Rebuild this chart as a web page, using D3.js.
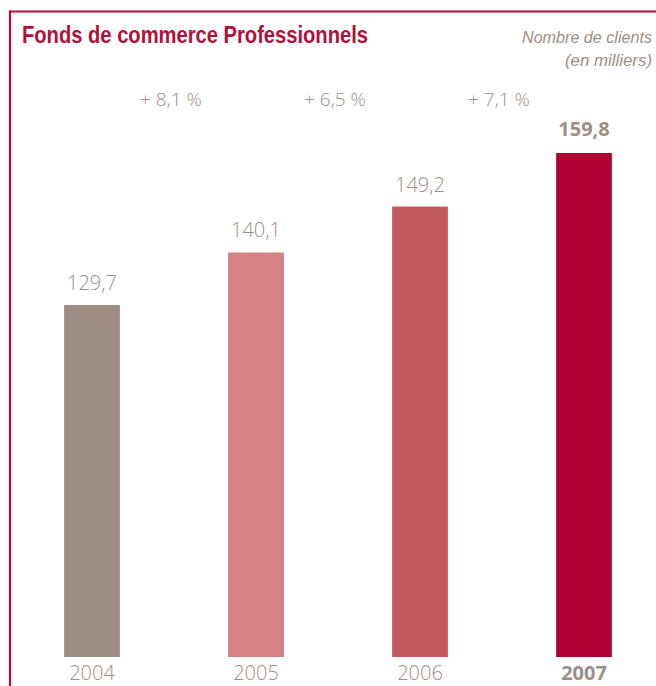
<!DOCTYPE html>
<html>
<head>
<meta charset="utf-8">
<script src="https://cdn.jsdelivr.net/npm/d3@7"></script>
<style>
  html, body { margin: 0; padding: 0; background: #fff; }
  svg { display: block; }
</style>
</head>
<body>
<svg id="chart" width="656" height="686"></svg>
<script>
// Number of "Professionnels" business clients, in thousands
const years = ["2004", "2005", "2006", "2007"];
const clients = [129.7, 140.1, 149.2, 159.8];
const valueLabels = ["129,7", "140,1", "149,2", "159,8"];
const growthLabels = ["+ 8,1 %", "+ 6,5 %", "+ 7,1 %"];
const barColors = ["#9e8e86", "#d48282", "#c25a5e", "#ae0233"];

const W = 656, H = 686;
const accent = "#b0103a";
const grey = "#9e8e86";

const svg = d3.select("#chart");

// Frame: top rule and left rule
svg.append("line").attr("x1", 9).attr("x2", W).attr("y1", 11.5).attr("y2", 11.5)
  .attr("stroke", accent).attr("stroke-width", 2.2);
svg.append("line").attr("x1", 10).attr("x2", 10).attr("y1", 10.5).attr("y2", H)
  .attr("stroke", accent).attr("stroke-width", 2.2);

// Title
svg.append("text")
  .attr("x", 22).attr("y", 43)
  .attr("font-family", "'Liberation Sans Narrow', 'Arial Narrow', 'Liberation Sans', sans-serif")
  .attr("font-size", 24.5)
  .attr("font-weight", 700)
  .attr("fill", accent)
  .attr("textLength", 346).attr("lengthAdjust", "spacingAndGlyphs")
  .text("Fonds de commerce Professionnels");

// Unit note
const note = svg.append("g")
  .attr("font-family", "'Liberation Sans Narrow', 'Liberation Sans', sans-serif")
  .attr("font-style", "italic")
  .attr("font-size", 16)
  .attr("fill", grey)
  .attr("text-anchor", "end");
note.append("text").attr("x", 652).attr("y", 43).attr("textLength", 130).attr("lengthAdjust", "spacingAndGlyphs").text("Nombre de clients");
note.append("text").attr("x", 652).attr("y", 66).attr("textLength", 87).attr("lengthAdjust", "spacingAndGlyphs").text("(en milliers)");

// Scales
const x = d3.scaleBand().domain(years).range([10, 666]).paddingInner(0.66).paddingOuter(0.33);
const y = d3.scaleLinear().domain([60, 159.8]).range([657, 153]);

const numFont = "'Open Sans', 'Lato', sans-serif";

// Bars
svg.append("g").selectAll("rect").data(years).join("rect")
  .attr("x", d => x(d))
  .attr("width", x.bandwidth())
  .attr("y", (d, i) => y(clients[i]))
  .attr("height", (d, i) => y(60) - y(clients[i]))
  .attr("fill", (d, i) => barColors[i]);

// Value labels
svg.append("g").selectAll("text").data(years).join("text")
  .attr("x", d => x(d) + x.bandwidth() / 2)
  .attr("y", (d, i) => y(clients[i]) - (i === 3 ? 17 : 15))
  .attr("text-anchor", "middle")
  .attr("font-family", numFont)
  .attr("font-size", 20)
  .attr("font-weight", (d, i) => i === 3 ? 700 : 300)
  .attr("fill", grey)
  .text((d, i) => valueLabels[i]);

// Growth labels between consecutive years
svg.append("g").selectAll("text").data(growthLabels).join("text")
  .attr("x", (d, i) => (x(years[i]) + x(years[i + 1])) / 2 + x.bandwidth() / 2 - 3)
  .attr("y", 106)
  .attr("text-anchor", "middle")
  .attr("font-family", numFont)
  .attr("font-size", 19)
  .attr("font-weight", 300)
  .attr("fill", grey)
  .text(d => d);

// Year axis
const axis = svg.append("g").attr("transform", `translate(0,${y(60)})`)
  .call(d3.axisBottom(x).tickSize(0).tickPadding(9));
axis.select(".domain").remove();
axis.selectAll("text")
  .attr("dy", "0.71em")
  .attr("font-family", numFont)
  .attr("font-size", 20)
  .attr("font-weight", (d, i) => i === 3 ? 700 : 300)
  .attr("fill", grey);
</script>
</body>
</html>
